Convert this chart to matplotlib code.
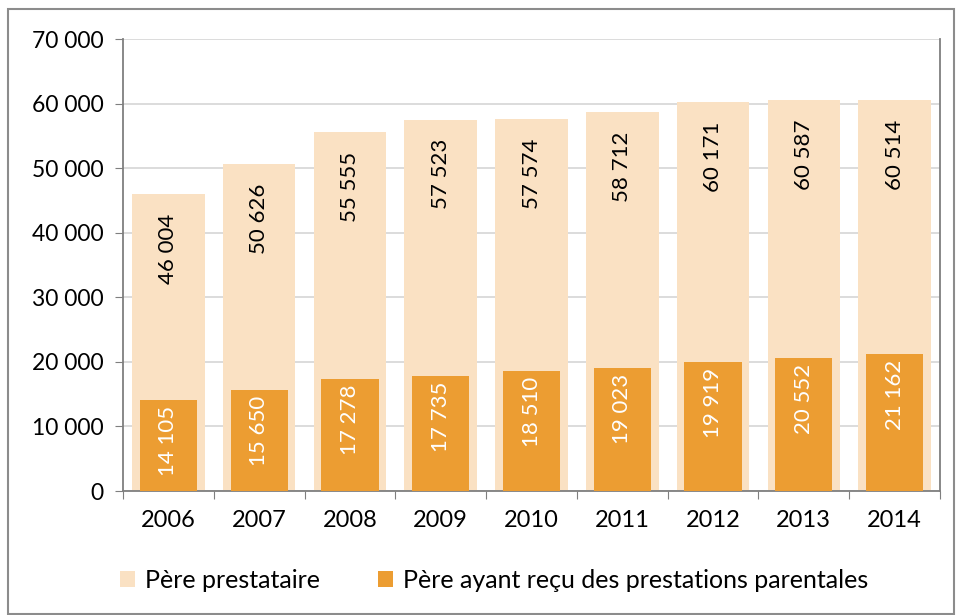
import matplotlib
matplotlib.use("Agg")
import matplotlib.pyplot as plt
from matplotlib.patches import Rectangle

plt.rcParams['font.family'] = ['Lato', 'DejaVu Sans']

years = ['2006', '2007', '2008', '2009', '2010', '2011', '2012', '2013', '2014']
pere_prestataire = [46004, 50626, 55555, 57523, 57574, 58712, 60171, 60587, 60514]
pere_parental = [14105, 15650, 17278, 17735, 18510, 19023, 19919, 20552, 21162]
yticks = [0, 10000, 20000, 30000, 40000, 50000, 60000, 70000]

def fmt(v):
    return f"{v:,}".replace(",", " ")

light = '#FAE1C3'
dark = '#EC9D32'

fig = plt.figure(figsize=(9.56, 6.15), dpi=100)
ax = fig.add_axes([123/956, 1-491/615, (940-123)/956, (491-39)/615])

x = list(range(len(years)))
ax.bar(x, pere_prestataire, width=0.8, color=light, label='Père prestataire', zorder=2)
ax.bar(x, pere_parental, width=0.63, color=dark, label='Père ayant reçu des prestations parentales', zorder=3)

for xi, v in zip(x, pere_prestataire):
    ax.annotate(fmt(v), (xi, v), xytext=(0, -14), textcoords='offset points',
                rotation=90, ha='center', va='top', fontsize=16, color='black', zorder=4)
for xi, v in zip(x, pere_parental):
    ax.annotate(fmt(v), (xi, v), xytext=(0, -4), textcoords='offset points',
                rotation=90, ha='center', va='top', fontsize=16, color='white', zorder=4)

ax.set_xlim(-0.5, len(years) - 0.5)
ax.set_ylim(0, 70000)
ax.set_yticks(yticks)
ax.set_yticklabels([fmt(t) for t in yticks], fontsize=16.5)
ax.set_xticks([i - 0.5 for i in range(len(years) + 1)], minor=False)
ax.set_xticklabels([])
ax.set_xticks(x, minor=True)
ax.set_xticklabels(years, minor=True, fontsize=17)
ax.tick_params(axis='x', which='minor', length=0, pad=14)
ax.tick_params(axis='x', which='major', length=6, color='#7F7F7F', direction='out')
ax.tick_params(axis='y', length=6, color='#7F7F7F', pad=8)
ax.yaxis.grid(True, color='#D9D9D9', linewidth=1.3, zorder=0)
ax.set_axisbelow(True)
for s in ['left', 'bottom', 'right']:
    ax.spines[s].set_color('#7F7F7F')
    ax.spines[s].set_linewidth(1.3)
ax.spines['top'].set_visible(False)

leg = fig.legend(loc='center', bbox_to_anchor=(0.517, 1-580/615), ncol=2, frameon=False,
                 fontsize=18, handlelength=0.6, handleheight=0.6, columnspacing=2.3, handletextpad=0.4)

fig.patches.append(Rectangle((8/956, 0.002), 946/956, 1-9/615-0.002, transform=fig.transFigure,
                             fill=False, edgecolor='#8C8C8C', linewidth=1.5))

fig.savefig('out.png', dpi=100)
